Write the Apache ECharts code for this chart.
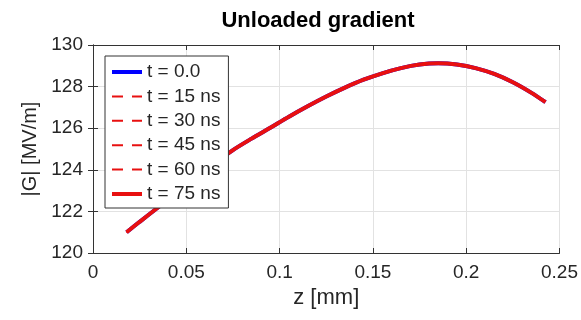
<!DOCTYPE html>
<html>
<head>
<meta charset="utf-8">
<script src="https://cdn.jsdelivr.net/npm/echarts@6/dist/echarts.min.js"></script>
<style>html,body{margin:0;padding:0;background:#fff}#c{width:581px;height:320px}</style>
</head>
<body>
<div id="c"></div>
<script>
var zValues = [0.018, 0.025, 0.035, 0.045, 0.055, 0.065, 0.075, 0.085, 0.095, 0.105, 0.115, 0.125, 0.135, 0.145, 0.155, 0.165, 0.175, 0.185, 0.195, 0.205, 0.215, 0.225, 0.235, 0.2425];
var gradientValues = [121.0, 121.5, 122.2, 122.9, 123.6, 124.3, 124.95, 125.5, 126.02, 126.55, 127.05, 127.52, 127.95, 128.33, 128.64, 128.89, 129.06, 129.12, 129.06, 128.89, 128.61, 128.21, 127.7, 127.25];
var seriesNames = ['t = 0.0', 't = 15 ns', 't = 30 ns', 't = 45 ns', 't = 60 ns', 't = 75 ns'];
var xTicks = [0, 0.05, 0.1, 0.15, 0.2, 0.25];
var yTicks = [120, 122, 124, 126, 128, 130];

var pts = zValues.map(function (z, i) { return [z, gradientValues[i]]; });
var txt = '#262626';
var fontFam = 'Liberation Sans, Arial, sans-serif';
var BLUE = '#0000ff', RED = '#e81010';
var DASH = [11, 9];

function isSolid(i) { return i === 0 || i === seriesNames.length - 1; }

var series = seriesNames.map(function (name, i) {
  return {
    name: name, type: 'line', data: pts, smooth: 0.3, symbol: 'none',
    xAxisIndex: 0, yAxisIndex: 0,
    lineStyle: {
      color: i === 0 ? BLUE : RED,
      width: isSolid(i) ? 4 : 2,
      type: isSolid(i) ? 'solid' : DASH
    },
    itemStyle: { color: i === 0 ? BLUE : RED },
    z: 2 + i
  };
});

var legendData = seriesNames.map(function (name, i) {
  return {
    name: name,
    lineStyle: { color: i === 0 ? BLUE : RED, width: isSolid(i) ? 4 : 2, type: isSolid(i) ? 'solid' : DASH }
  };
});

var chart = echarts.init(document.getElementById('c'), null, { renderer: 'canvas' });
chart.setOption({
  animation: false,
  backgroundColor: '#fff',
  title: {
    text: 'Unloaded gradient', left: 313, textAlign: 'center', top: 5,
    textStyle: { fontFamily: fontFam, fontSize: 22, fontWeight: 'bold', color: '#000' }
  },
  grid: { left: 93, right: 21, top: 45, bottom: 67, containLabel: false },
  legend: {
    orient: 'vertical', left: 105, top: 56,
    data: legendData,
    itemWidth: 30, itemHeight: 20, itemGap: 4.4,
    padding: [6, 8, 4, 5],
    backgroundColor: '#fff', borderColor: '#333', borderWidth: 1,
    itemStyle: { opacity: 0 },
    textStyle: { fontFamily: fontFam, fontSize: 19, color: txt, lineHeight: 20 },
    z: 20
  },
  xAxis: [{
    type: 'value', min: 0, max: 0.25, interval: 0.05,
    name: 'z [mm]', nameLocation: 'middle', nameGap: 33,
    nameTextStyle: { fontFamily: fontFam, fontSize: 22, color: txt },
    axisLine: { show: true, lineStyle: { color: '#333', width: 1 } },
    axisTick: { show: true, inside: true, length: 5, lineStyle: { color: '#333' } },
    axisLabel: { fontFamily: fontFam, fontSize: 19, color: txt, margin: 10,
      formatter: function (v) { var i = xTicks.indexOf(Math.round(v * 100) / 100); return i >= 0 ? String(xTicks[i]) : ''; } },
    splitLine: { show: true, lineStyle: { color: '#e2e2e2', width: 1 } }
  }, {
    type: 'value', position: 'top', min: 0, max: 0.25, interval: 0.05,
    axisLine: { show: true, lineStyle: { color: '#333', width: 1 } },
    axisTick: { show: true, inside: true, length: 5, lineStyle: { color: '#333' } },
    axisLabel: { show: false }, splitLine: { show: false }
  }],
  yAxis: [{
    type: 'value', min: 120, max: 130, interval: 2,
    name: '|G| [MV/m]', nameLocation: 'middle', nameGap: 52, nameRotate: 90,
    nameTextStyle: { fontFamily: fontFam, fontSize: 20, color: txt },
    axisLine: { show: true, lineStyle: { color: '#333', width: 1 } },
    axisTick: { show: true, inside: true, length: 5, lineStyle: { color: '#333' } },
    axisLabel: { fontFamily: fontFam, fontSize: 19, color: txt, margin: 10,
      formatter: function (v) { return yTicks.indexOf(v) >= 0 ? String(v) : ''; } },
    splitLine: { show: true, lineStyle: { color: '#e2e2e2', width: 1 } }
  }, {
    type: 'value', position: 'right', min: 120, max: 130, interval: 2,
    axisLine: { show: true, lineStyle: { color: '#333', width: 1 } },
    axisTick: { show: true, inside: true, length: 5, lineStyle: { color: '#333' } },
    axisLabel: { show: false }, splitLine: { show: false }
  }],
  series: series
});
</script>
</body>
</html>
